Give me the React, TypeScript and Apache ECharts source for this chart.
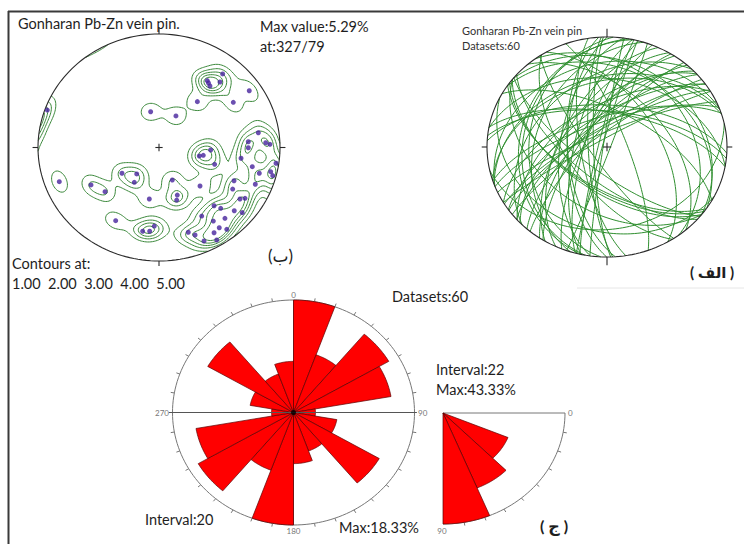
import React, { useEffect, useRef } from "react";
import * as echarts from "echarts";

// ---------- DATA ----------
// Poles of the 60 veins (panel ب): east / north position on the lower-hemisphere equal-area net (unit radius)
const poleEast = [0.399,0.421,0.504,0.526,0.746,0.317,0.614,0.409,-0.069,0.140,-0.923,0.333,0.366,0.427,0.460,-0.824,-0.562,-0.446,-0.306,-0.184,-0.204,-0.080,0.110,0.151,0.146,0.339,-0.358,-0.039,-0.135,-0.077,0.821,0.738,0.738,0.882,0.917,0.678,0.967,0.771,0.829,0.923,0.940,0.620,0.796,0.609,0.669,0.711,0.455,0.510,0.622,0.688,0.353,0.545,0.449,0.498,0.560,0.455,0.298,0.372,0.477,0.242];
const poleNorth = [0.589,0.542,0.577,0.648,0.500,0.404,0.398,0.568,0.315,0.278,0.330,-0.075,-0.069,-0.022,-0.148,-0.301,-0.330,-0.389,-0.227,-0.233,-0.307,-0.454,-0.286,-0.419,-0.463,-0.339,-0.645,-0.692,-0.738,-0.738,0.130,0.051,-0.002,0.042,0.028,-0.095,-0.139,-0.169,-0.227,-0.213,-0.248,-0.293,-0.324,-0.366,-0.454,-0.448,-0.513,-0.536,-0.557,-0.574,-0.604,-0.624,-0.648,-0.707,-0.721,-0.751,-0.771,-0.824,-0.815,-0.747];
const contourLevels = [1, 2, 3, 4, 5];

// Strike rose (bidirectional), interval 20
const strikeBinStart = [0, 20, 40, 60, 80, 100, 120, 140, 160];
const strikeCounts = [11, 6, 10, 9, 2, 4, 9, 4, 5];
const strikeInterval = 20;

// Dip histogram (quarter rose), interval 22.5
const dipBinStart = [0, 22.5, 45, 67.5];
const dipCounts = [0, 15, 19, 26];
const dipInterval = 22.5;

const FONT = "Lato, 'DejaVu Sans', sans-serif";

// ---------- helpers ----------
const SQ2 = Math.SQRT2;
type V3 = [number, number, number];
function netToVec(x: number, y: number): V3 {
  let r = Math.hypot(x, y);
  if (r > 1) { x /= r; y /= r; r = 1; }
  const th = 2 * Math.asin(Math.min(1, r / SQ2));
  const ph = Math.atan2(x, y);
  const s = Math.sin(th);
  return [s * Math.sin(ph), s * Math.cos(ph), Math.cos(th)];
}
function vecToNet(v: V3): [number, number] {
  let [e, n, d] = v;
  if (d < 0) { e = -e; n = -n; d = -d; }
  const th = Math.acos(Math.min(1, d));
  const r = SQ2 * Math.sin(th / 2);
  const h = Math.hypot(e, n);
  if (h < 1e-12) return [0, 0];
  return [(r * e) / h, (r * n) / h];
}
function cross(a: V3, b: V3): V3 {
  return [a[1] * b[2] - a[2] * b[1], a[2] * b[0] - a[0] * b[2], a[0] * b[1] - a[1] * b[0]];
}

function contourLines(g: number[][], xs: number[], ys: number[], L: number): number[][][] {
  const pts = new Map<string, number[]>();
  const segs: string[][] = [];
  const ep = (key: string, x1: number, y1: number, v1: number, x2: number, y2: number, v2: number) => {
    if (!pts.has(key)) {
      const t = (L - v1) / (v2 - v1);
      pts.set(key, [x1 + t * (x2 - x1), y1 + t * (y2 - y1)]);
    }
    return key;
  };
  for (let j = 0; j < ys.length - 1; j++) {
    for (let i = 0; i < xs.length - 1; i++) {
      const v00 = g[j][i], v10 = g[j][i + 1], v01 = g[j + 1][i], v11 = g[j + 1][i + 1];
      const b00 = v00 >= L, b10 = v10 >= L, b01 = v01 >= L, b11 = v11 >= L;
      const B = b00 !== b10 ? ep(`h${i}_${j}`, xs[i], ys[j], v00, xs[i + 1], ys[j], v10) : null;
      const R = b10 !== b11 ? ep(`v${i + 1}_${j}`, xs[i + 1], ys[j], v10, xs[i + 1], ys[j + 1], v11) : null;
      const T = b01 !== b11 ? ep(`h${i}_${j + 1}`, xs[i], ys[j + 1], v01, xs[i + 1], ys[j + 1], v11) : null;
      const Lf = b00 !== b01 ? ep(`v${i}_${j}`, xs[i], ys[j], v00, xs[i], ys[j + 1], v01) : null;
      const list = [B, R, T, Lf].filter((k) => k !== null) as string[];
      if (list.length === 2) segs.push([list[0], list[1]]);
      else if (list.length === 4) {
        const center = (v00 + v10 + v01 + v11) / 4 >= L;
        if (center === b00) { segs.push([B!, R!]); segs.push([T!, Lf!]); }
        else { segs.push([B!, Lf!]); segs.push([R!, T!]); }
      }
    }
  }
  const adj = new Map<string, number[]>();
  segs.forEach(([a, b], k) => {
    if (!adj.has(a)) adj.set(a, []);
    if (!adj.has(b)) adj.set(b, []);
    adj.get(a)!.push(k);
    adj.get(b)!.push(k);
  });
  const used = new Array(segs.length).fill(false);
  const walk = (startKey: string, k0: number) => {
    const keys = [startKey];
    let k = k0, cur = startKey;
    while (k !== -1 && !used[k]) {
      used[k] = true;
      const [a, b] = segs[k];
      const nxt = a === cur ? b : a;
      keys.push(nxt);
      cur = nxt;
      const cand = (adj.get(cur) || []).find((s) => !used[s]);
      k = cand === undefined ? -1 : cand;
    }
    return keys;
  };
  const out: string[][] = [];
  adj.forEach((list, key) => {
    if (list.length === 1 && !used[list[0]]) out.push(walk(key, list[0]));
  });
  segs.forEach((s, k) => { if (!used[k]) out.push(walk(s[0], k)); });
  return out.map((keys) => keys.map((k) => pts.get(k)!));
}

function circleT(q: number[], p: number[]) {
  const dx = p[0] - q[0], dy = p[1] - q[1];
  const a = dx * dx + dy * dy, b = 2 * (q[0] * dx + q[1] * dy), c = q[0] * q[0] + q[1] * q[1] - 1;
  const disc = Math.sqrt(Math.max(0, b * b - 4 * a * c));
  const t1 = (-b - disc) / (2 * a), t2 = (-b + disc) / (2 * a);
  return t1 >= 0 && t1 <= 1 ? t1 : t2;
}
function clipUnit(line: number[][]): number[][][] {
  const out: number[][][] = [];
  let cur: number[][] = [];
  for (let k = 0; k < line.length; k++) {
    const p = line[k];
    const inside = p[0] * p[0] + p[1] * p[1] <= 1;
    if (k > 0) {
      const q = line[k - 1];
      const qin = q[0] * q[0] + q[1] * q[1] <= 1;
      if (inside !== qin) {
        const t = circleT(q, p);
        cur.push([q[0] + t * (p[0] - q[0]), q[1] + t * (p[1] - q[1])]);
        if (!inside) { if (cur.length > 1) out.push(cur); cur = []; }
      }
    }
    if (inside) cur.push(p);
  }
  if (cur.length > 1) out.push(cur);
  return out;
}

function ellipseCoords(a0: number, a1: number, r = 1, fn?: (a: number) => number[]) {
  const c: number[][] = [];
  for (let a = a0; a <= a1 + 1e-9; a += 2) {
    const t = (a * Math.PI) / 180;
    c.push(fn ? fn(a) : [r * Math.sin(t), r * Math.cos(t)]);
  }
  return c;
}

function buildOption() {
  const N = poleEast.length;
  const poles = poleEast.map((e, i) => netToVec(e, poleNorth[i]));

  // density grid (Fisher-type smoothing, antipodal wrap)
  const G = 156, R0 = 1.04;
  const xs: number[] = [];
  for (let i = 0; i <= G; i++) xs.push(-R0 + (2 * R0 * i) / G);
  const ys = xs.slice();
  const kappa = 105, scale = (100 / N) * 1.1;
  const dens: number[][] = [];
  for (let j = 0; j <= G; j++) {
    const row: number[] = [];
    for (let i = 0; i <= G; i++) {
      const u = netToVec(xs[i], ys[j]);
      let s = 0;
      for (const p of poles) {
        const d = Math.abs(u[0] * p[0] + u[1] * p[1] + u[2] * p[2]);
        s += Math.exp(kappa * (d - 1));
      }
      row.push(s * scale);
    }
    dens.push(row);
  }
  const contours: number[][][] = [];
  contourLevels.forEach((L) => {
    contourLines(dens, xs, ys, L).forEach((ln) => clipUnit(ln).forEach((c) => contours.push(c)));
  });

  // great circles
  const gcs = poles.map((p) => {
    let s: V3 = [p[1], -p[0], 0];
    const sn = Math.hypot(s[0], s[1]);
    s = [s[0] / sn, s[1] / sn, 0];
    let d = cross(p, s);
    if (d[2] < 0) d = [-d[0], -d[1], -d[2]];
    const c: number[][] = [];
    for (let t = 0; t <= 180; t += 2) {
      const r = (t * Math.PI) / 180;
      const v: V3 = [Math.cos(r) * s[0] + Math.sin(r) * d[0], Math.cos(r) * s[1] + Math.sin(r) * d[1], Math.cos(r) * s[2] + Math.sin(r) * d[2]];
      c.push(vecToNet(v));
    }
    return c;
  });

  // rose wedges (bidirectional)
  const maxStrike = Math.max(...strikeCounts);
  const roseData: number[][] = [];
  strikeBinStart.forEach((a, i) => {
    const r = strikeCounts[i] / maxStrike;
    roseData.push([a, a + strikeInterval, r]);
    roseData.push([a + 180, a + 180 + strikeInterval, r]);
  });
  const maxDip = Math.max(...dipCounts);
  const dipData = dipBinStart
    .map((a, i) => [a, a + dipInterval, dipCounts[i] / maxDip])
    .filter((d) => d[2] > 0);

  const axes = (n: number) => Array.from({ length: n }, (_, k) => ({ type: "value", gridIndex: k, min: -1, max: 1, show: false }));

  const linesSeries = (gi: number, data: number[][][], color: string, width: number, z = 2) => ({
    type: "lines",
    coordinateSystem: "cartesian2d",
    xAxisIndex: gi,
    yAxisIndex: gi,
    polyline: true,
    silent: true,
    clip: false,
    z,
    lineStyle: { color, width, opacity: 1 },
    data: data.map((c) => ({ coords: c })),
  });

  const netFrame = (tn: number, ts: number, tw: number, te: number, cx: number, cy: number) => [
    ellipseCoords(0, 360),
    [[0, 1], [0, 1 + tn]],
    [[0, -1], [0, -1 - ts]],
    [[-1, 0], [-1 - tw, 0]],
    [[1, 0], [1 + te, 0]],
    [[-cx, 0], [cx, 0]],
    [[0, -cy], [0, cy]],
  ];

  const roseTicks: number[][][] = [];
  for (let a = 10; a < 360; a += 10) {
    if (a % 90 === 0) continue;
    const t = (a * Math.PI) / 180;
    roseTicks.push([[Math.sin(t), Math.cos(t)], [1.03 * Math.sin(t), 1.03 * Math.cos(t)]]);
  }
  const roseFrame = [ellipseCoords(0, 360), ...roseTicks, [[0, 1], [0, -1]]];
  const dipTicks: number[][][] = [];
  for (let a = 10; a < 90; a += 10) {
    const t = (a * Math.PI) / 180;
    dipTicks.push([[Math.cos(t), -Math.sin(t)], [1.03 * Math.cos(t), -1.03 * Math.sin(t)]]);
  }
  const dipFrame = [
    ellipseCoords(0, 90, 1, (a) => [Math.cos((a * Math.PI) / 180), -Math.sin((a * Math.PI) / 180)]),
    [[0, 0], [1, 0]],
    ...dipTicks,
  ];

  const wedgeStyle = { fill: "#ff0000", stroke: "#5a0000", lineWidth: 0.7 };

  const T = (text: string, x: number, y: number, size: number, extra: any = {}) => ({
    type: "text",
    x,
    y,
    silent: true,
    style: { text, fontSize: size, fontFamily: FONT, fill: "#1e1e1e", textVerticalAlign: "middle", textAlign: "left", ...extra },
  });

  return {
    animation: false,
    backgroundColor: "#ffffff",
    grid: [
      { left: 38, top: 34, width: 242, height: 227 },
      { left: 487, top: 37, width: 240, height: 220 },
      { left: 172.5, top: 300, width: 242, height: 225 },
      { left: 321, top: 302, width: 244, height: 222 },
    ],
    xAxis: axes(4),
    yAxis: axes(4),
    series: [
      // panel ب
      linesSeries(0, contours, "#3a883a", 1, 2),
      {
        type: "scatter",
        xAxisIndex: 0,
        yAxisIndex: 0,
        clip: false,
        silent: true,
        z: 5,
        symbolSize: 5,
        itemStyle: { color: "#46239c" },
        data: poleEast.map((e, i) => [e, poleNorth[i]]),
      },
      linesSeries(0, netFrame(0.062, 0.045, 0.045, 0.045, 0.03, 0.032), "#2a2a2a", 1.1, 4),
      // panel الف
      linesSeries(1, gcs, "#2f8f2f", 1, 2),
      linesSeries(1, netFrame(0.075, 0.075, 0.044, 0.044, 0.035, 0.038), "#2a2a2a", 1.1, 4),
      // rose
      linesSeries(2, roseFrame, "#777777", 1, 1),
      {
        type: "custom",
        xAxisIndex: 2,
        yAxisIndex: 2,
        silent: true,
        z: 3,
        encode: { x: 0, y: 1 },
        renderItem: (_p: any, api: any) => {
          const a0 = api.value(0), a1 = api.value(1), r = api.value(2);
          const pts = [api.coord([0, 0])];
          for (let a = a0; a <= a1 + 1e-9; a += 1) {
            const t = (a * Math.PI) / 180;
            pts.push(api.coord([r * Math.sin(t), r * Math.cos(t)]));
          }
          return { type: "polygon", shape: { points: pts }, style: wedgeStyle };
        },
        data: roseData,
      },
      linesSeries(2, [[[-1.03, 0], [1.02, 0]]], "#555555", 1, 6),
      {
        type: "scatter",
        xAxisIndex: 2,
        yAxisIndex: 2,
        clip: false,
        silent: true,
        z: 7,
        symbolSize: 5,
        itemStyle: { color: "#000" },
        data: [[0, 0]],
      },
      // dip quarter rose
      linesSeries(3, dipFrame, "#777777", 1, 1),
      {
        type: "custom",
        xAxisIndex: 3,
        yAxisIndex: 3,
        silent: true,
        z: 3,
        encode: { x: 0, y: 1 },
        renderItem: (_p: any, api: any) => {
          const a0 = api.value(0), a1 = api.value(1), r = api.value(2);
          const pts = [api.coord([0, 0])];
          for (let a = a0; a <= a1 + 1e-9; a += 0.5) {
            const t = (a * Math.PI) / 180;
            pts.push(api.coord([r * Math.cos(t), -r * Math.sin(t)]));
          }
          return { type: "polygon", shape: { points: pts }, style: wedgeStyle };
        },
        data: dipData,
      },
    ],
    graphic: [
      { type: "line", silent: true, shape: { x1: 8, y1: 11.5, x2: 744, y2: 11.5 }, style: { stroke: "#3a3a3a", lineWidth: 2 } },
      { type: "line", silent: true, shape: { x1: 8.5, y1: 11, x2: 8.5, y2: 544 }, style: { stroke: "#3a3a3a", lineWidth: 2 } },
      { type: "line", silent: true, shape: { x1: 577, y1: 288, x2: 744, y2: 288 }, style: { stroke: "#e6e6e6", lineWidth: 1 } },
      T("Gonharan Pb-Zn vein pin.", 18, 23, 14.5),
      T("Max value:5.29%", 260, 26, 14.5),
      T("at:327/79", 260, 46, 14.5),
      T("(ب)", 268, 255, 17),
      T("Contours at:", 12, 263, 14.5),
      T(contourLevels.map((v) => v.toFixed(2)).join("  "), 12, 283, 14.5),
      T("Gonharan Pb-Zn vein pin", 462, 30, 11, { fill: "#333" }),
      T("Datasets:" + poleEast.length, 462, 45, 11, { fill: "#333" }),
      T("( الف )", 690, 272, 15, { fontWeight: "bold" }),
      T("Datasets:" + strikeCounts.reduce((a, b) => a + b, 0), 392, 296, 14.5),
      T("Interval:" + Math.floor(dipInterval), 436, 369, 14.5),
      T("Max:" + ((100 * maxDip) / dipCounts.reduce((a, b) => a + b, 0)).toFixed(2) + "%", 436, 389, 14.5),
      T("Interval:" + strikeInterval, 145, 519, 14.5),
      T("Max:" + ((100 * maxStrike) / strikeCounts.reduce((a, b) => a + b, 0)).toFixed(2) + "%", 339, 527, 14.5),
      T("( ج )", 540, 525, 16, { fontWeight: "bold" }),
      T("0", 293.5, 295, 8, { fill: "#777", textAlign: "center" }),
      T("90", 418, 413, 8, { fill: "#777" }),
      T("270", 169, 413, 8, { fill: "#777", textAlign: "right" }),
      T("180", 293.5, 531, 8, { fill: "#777", textAlign: "center" }),
      T("0", 568, 413, 8, { fill: "#777" }),
      T("90", 442, 531, 8, { fill: "#777", textAlign: "center" }),
    ],
  };
}

export default function App() {
  const ref = useRef<HTMLDivElement>(null);
  useEffect(() => {
    const chart = echarts.init(ref.current!, null, { renderer: "svg" });
    chart.setOption(buildOption() as any);
    return () => chart.dispose();
  }, []);
  return (
    <div
      ref={ref}
      style={{ position: "absolute", left: 0, top: 0, width: 744, height: 544, background: "#fff" }}
    />
  );
}
